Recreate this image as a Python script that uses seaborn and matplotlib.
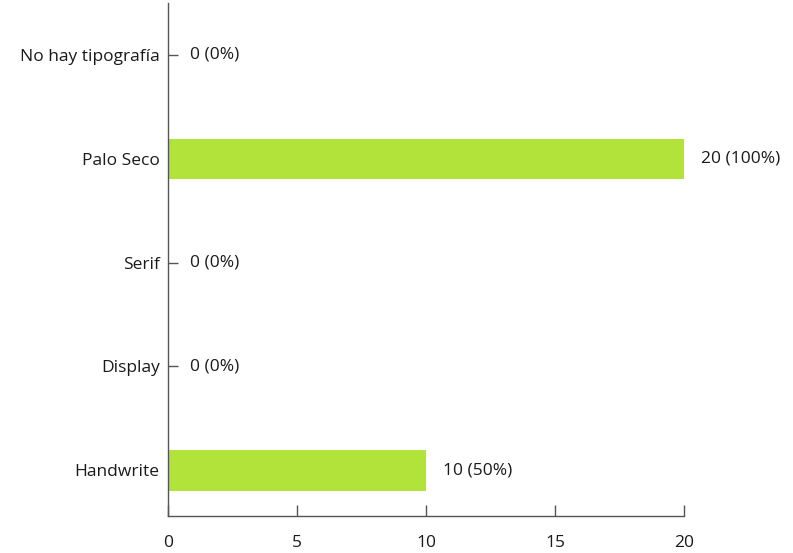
import matplotlib
matplotlib.use("Agg")
import matplotlib.pyplot as plt
import seaborn as sns
import pandas as pd

categories = ["No hay tipografía", "Palo Seco", "Serif", "Display", "Handwrite"]
counts = [0, 20, 0, 0, 10]
percents = ["0%", "100%", "0%", "0%", "50%"]
xticks = [0, 5, 10, 15, 20]

sns.set_style("white")
plt.rcParams['font.family'] = ['Open Sans', 'DejaVu Sans']

df = pd.DataFrame({"cat": categories, "n": counts})

fig = plt.figure(figsize=(7.93, 5.53), dpi=100)
ax = fig.add_axes([168/793, 1-516/553, (684-168)/793, (516-3)/553])

sns.barplot(data=df, y="cat", x="n", orient="h", color="#b2e33b",
            saturation=1, width=0.39, ax=ax, linewidth=0, edgecolor="none",
            zorder=2)

ax.set_xlim(0, 20)
ax.set_ylim(4.44, -0.50)
ax.set_xticks(xticks)
ax.set_xticklabels([str(t) for t in xticks])
ax.set_xlabel("")
ax.set_ylabel("")

for s in ["top", "right"]:
    ax.spines[s].set_visible(False)
for s in ["left", "bottom"]:
    ax.spines[s].set_color("#555555")
    ax.spines[s].set_linewidth(1.0)
    ax.spines[s].set_zorder(5)

ax.tick_params(axis="y", direction="in", length=7, width=1, color="#555555",
               labelsize=12.5, labelcolor="#1a1a1a", pad=6)
ax.tick_params(axis="x", direction="in", length=8, width=1, color="#555555",
               labelsize=12.5, labelcolor="#1a1a1a", pad=14)
ax.tick_params(axis="y", left=True)
ax.tick_params(axis="x", bottom=True)
ax.set_axisbelow(True)

for i, (v, p) in enumerate(zip(counts, percents)):
    off = 16 if v == 0 else 12
    ax.annotate(f"{v} ({p})", xy=(v, i), xytext=(off, 0), textcoords="offset points",
                va="center", ha="left", fontsize=12.5, color="#1a1a1a")

fig.savefig("out.png", dpi=100)
